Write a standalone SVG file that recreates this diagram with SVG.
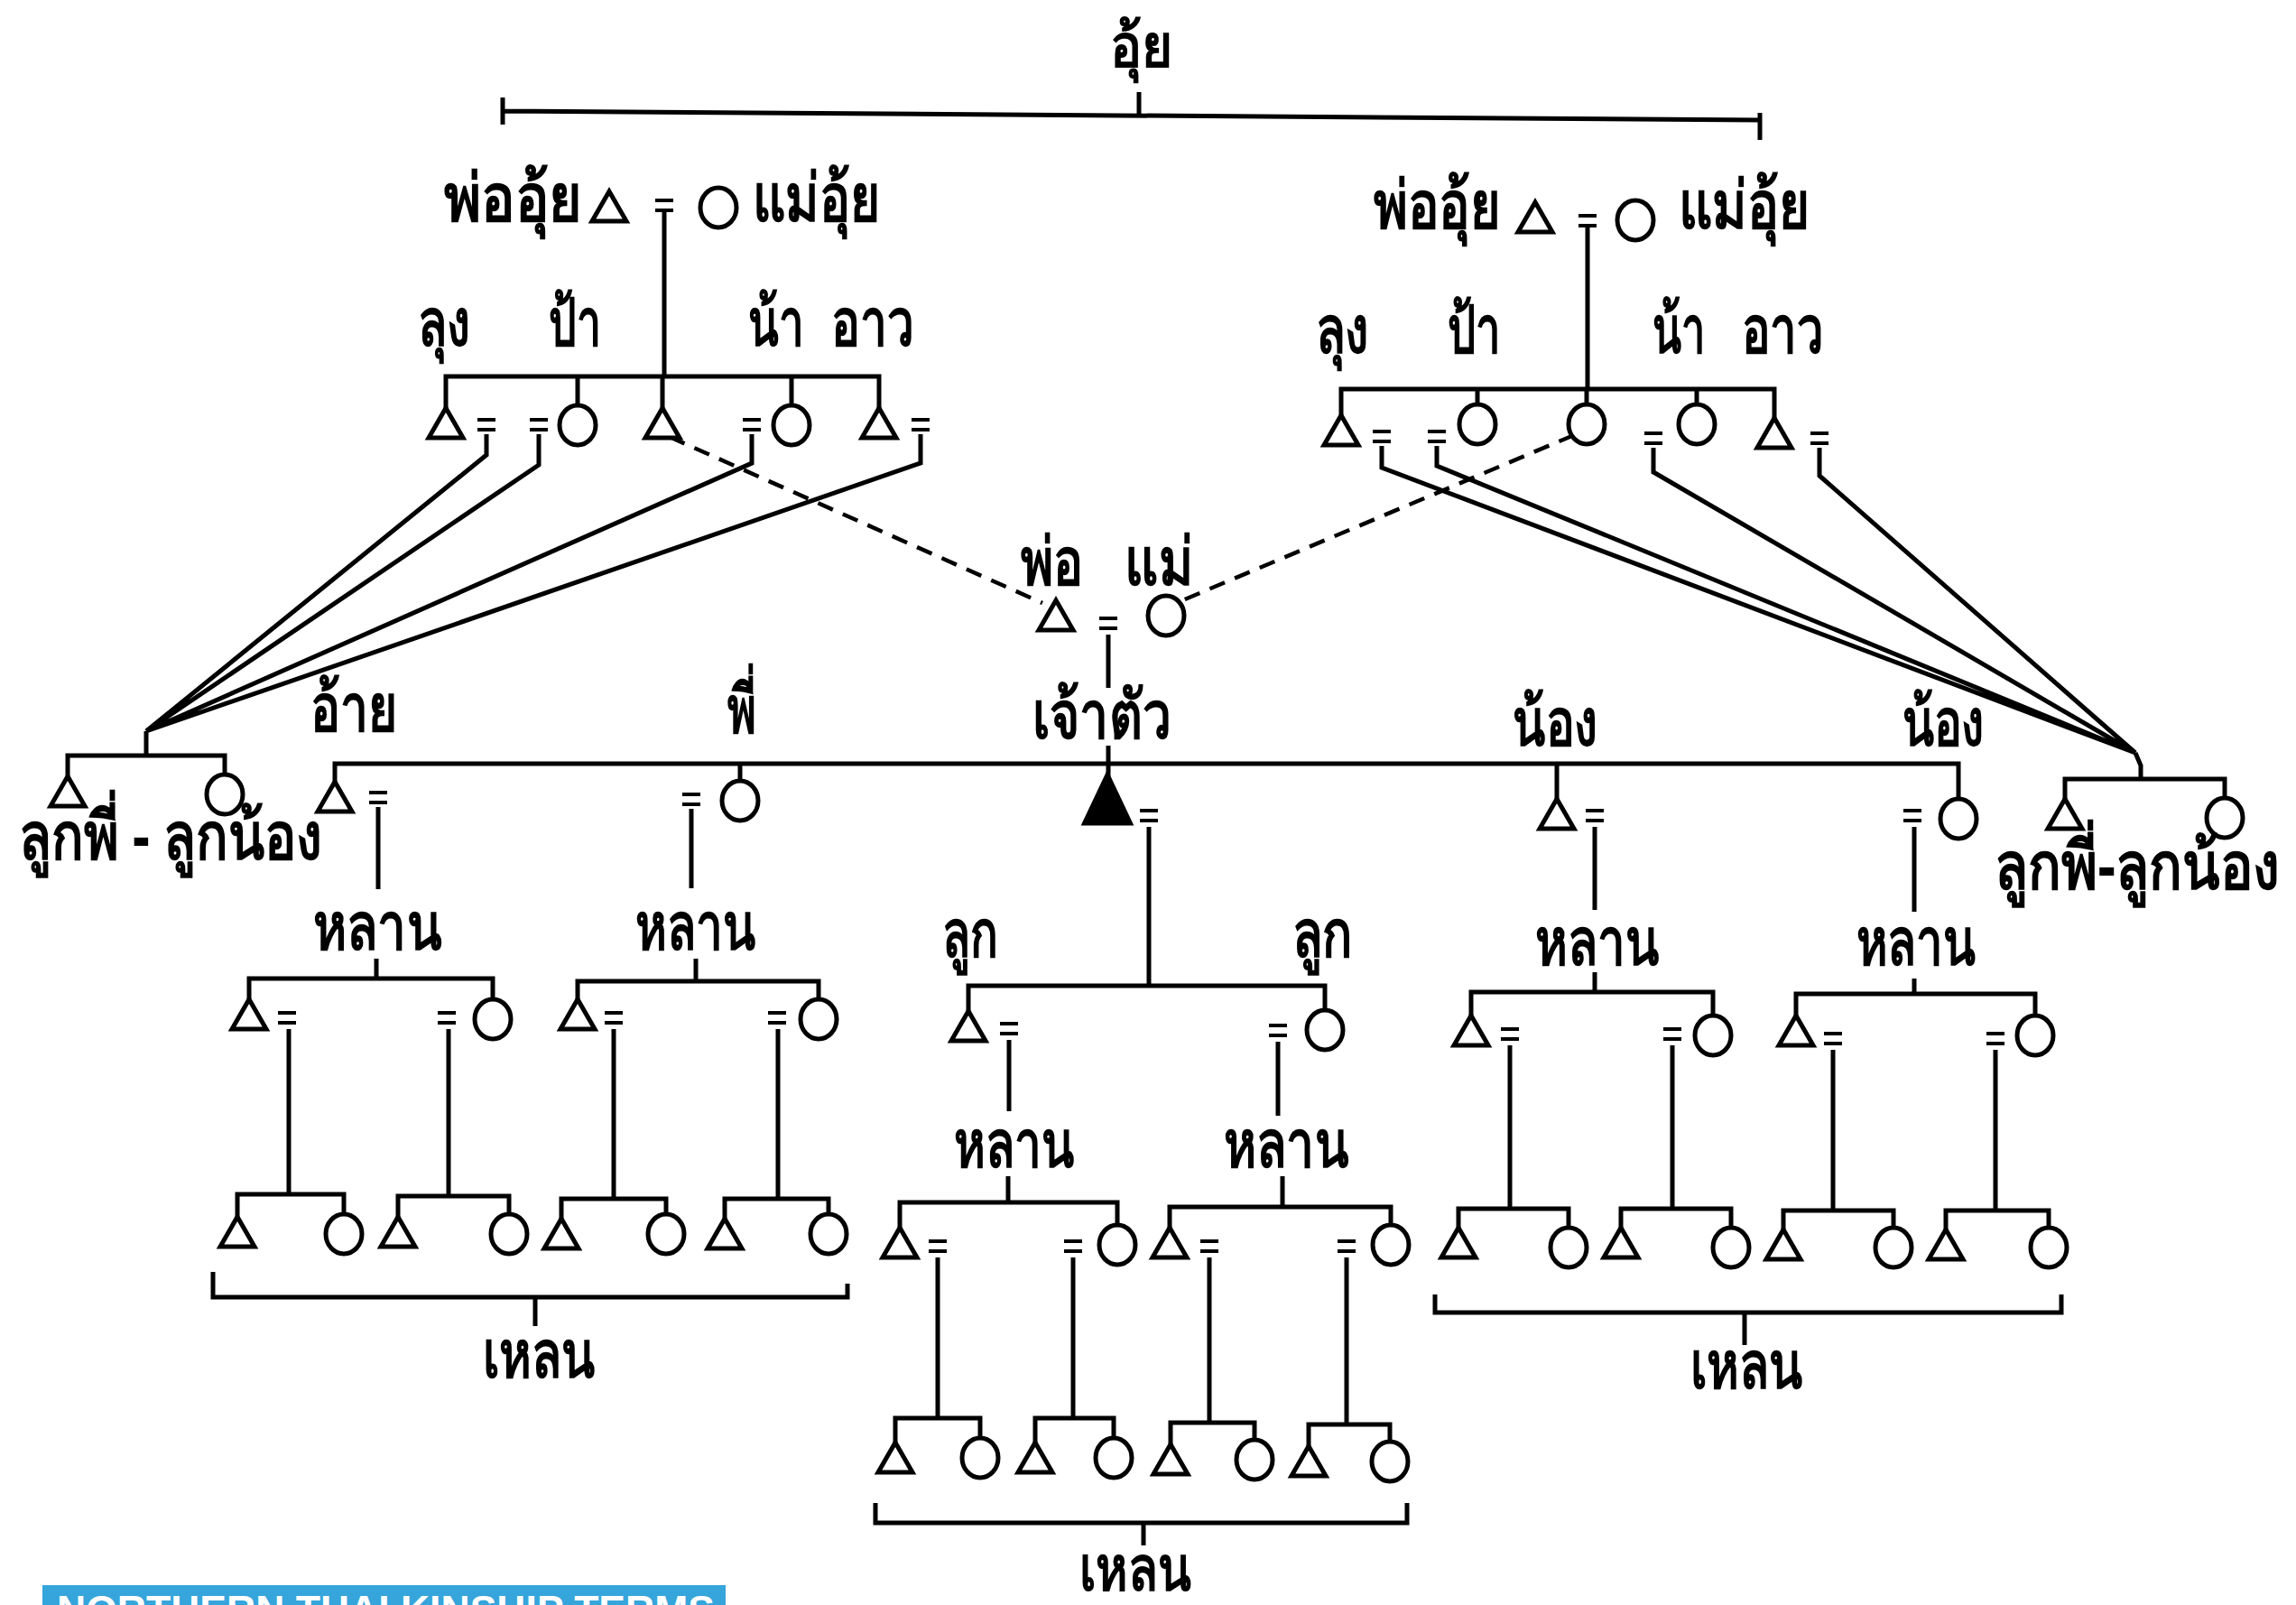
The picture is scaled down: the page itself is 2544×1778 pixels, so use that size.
<svg xmlns="http://www.w3.org/2000/svg" xmlns:xlink="http://www.w3.org/1999/xlink" width="2544" height="1778" viewBox="0 0 2544 1778">
<style>
.t{font-family:"Noto Sans","DejaVu Sans",sans-serif;font-size:74px;font-weight:bold;text-anchor:middle;fill:#000}
.c{fill:none;stroke:#000;stroke-width:5;stroke-linejoin:miter}
.d{fill:none;stroke:#000;stroke-width:4.5;stroke-dasharray:18 12}
.sym{fill:#fff;stroke:#000;stroke-width:5}
.eqs{fill:none;stroke:#000;stroke-width:4}
.banner{fill:#35a5db}
.bt{font-family:"Liberation Sans",Arial,sans-serif;font-size:44px;font-weight:bold;fill:#fff}
</style>
<defs>
<path id="tri" d="M0,0 L19,33 L-19,33 Z" class="sym"/>
<ellipse id="cir" cx="0" cy="22" rx="20" ry="22" class="sym"/>
<path id="eq" d="M-10,-5 h20 M-10,6 h20" class="eqs"/>
</defs>
<rect width="2544" height="1778" fill="#fff"/>

<g id="connectors">
<path class="c" d="M557,108 V138 M557,123 L1950,133 M1950,125 V155 M1262,102 V128"/>
<path class="c" d="M736,234 V417 M494,452 V417 H974 V452 M640,417 V449 M734,417 V452 M877,417 V449"/>
<path class="c" d="M1759,251 V431 M1486,460 V431 H1966 V463 M1637,431 V448 M1758,431 V448 M1880,431 V448"/>
<path class="c" d="M539,481 V504 L162,810 M597,481 V515 L162,810 M833,481 V513 L162,810 M1020,481 V513 L162,810 M162,810 V837 M75,860 V837 H249 V858"/>
<path class="c" d="M1531,494 V518 L2366,834 M1592,494 V516 L2366,834 M1832,496 V523 L2366,834 M2016,496 V527 L2366,834 M2366,834 L2372,848 V863 M2288,885 V863 H2465 V884"/>
<path class="d" d="M742,484 L1155,668 M1744,482 L1308,666"/>
<path class="c" d="M1228,703 V762 M1228,826 V860 M371,866 V846 H2170 V885 M820,846 V865 M1725,846 V885"/>
<path class="c" d="M419,894 V985 M766,896 V984 M1273,916 V1092 M1767,916 V1008 M2121,916 V1010"/>
<path class="c" d="M417,1062 V1084 M276,1107 V1084 H546 V1107 M771,1062 V1087 M640,1107 V1087 H907 V1107"/>
<path class="c" d="M320,1140 V1323 M263,1348 V1323 H381 V1345 M497,1140 V1325 M441,1348 V1325 H564 V1345 M680,1140 V1328 M622,1350 V1328 H738 V1345 M862,1140 V1328 M803,1350 V1328 H918 V1345"/>
<path class="c" d="M236,1409 V1437 H939 V1422 M593,1437 V1469"/>
<path class="c" d="M1073,1120 V1092 H1468 V1119 M1118,1152 V1231 M1117,1303 V1332 M997,1360 V1332 H1238 V1357 M1416,1154 V1236 M1421,1303 V1337 M1296,1360 V1337 H1541 V1357"/>
<path class="c" d="M1039,1393 V1571 M992,1598 V1571 H1086 V1593 M1189,1393 V1571 M1147,1598 V1571 H1234 V1593 M1340,1393 V1576 M1297,1600 V1576 H1390 V1595 M1492,1393 V1578 M1450,1602 V1578 H1540 V1597"/>
<path class="c" d="M970,1665 V1687 H1559 V1665 M1267,1687 V1712"/>
<path class="c" d="M1767,1077 V1099 M1630,1125 V1099 H1898 V1125 M2121,1084 V1101 M1990,1125 V1101 H2255 V1125"/>
<path class="c" d="M1673,1158 V1339 M1616,1360 V1339 H1738 V1360 M1853,1158 V1339 M1796,1360 V1339 H1918 V1360 M2031,1163 V1341 M1976,1362 V1341 H2098 V1360 M2211,1163 V1341 M2156,1362 V1341 H2270 V1360"/>
<path class="c" d="M1590,1434 V1454 H2284 V1434 M1933,1454 V1490"/>
</g>

<g id="ui"><text class="t" x="1265" y="74" textLength="70" lengthAdjust="spacingAndGlyphs" style="font-size:66px">อุ้ย</text></g>

<g id="left-gf"><use href="#tri" x="675" y="212"/><text class="t" x="568" y="245" textLength="152" lengthAdjust="spacingAndGlyphs">พ่ออุ้ย</text></g>
<g id="left-gp-eq"><use href="#eq" x="736" y="227"/></g>
<g id="left-gm"><use href="#cir" x="796" y="208"/><text class="t" x="904" y="245" textLength="141" lengthAdjust="spacingAndGlyphs">แม่อุ้ย</text></g>

<g id="right-gf"><use href="#tri" x="1701" y="224"/><text class="t" x="1592" y="253" textLength="140" lengthAdjust="spacingAndGlyphs">พ่ออุ้ย</text></g>
<g id="right-gp-eq"><use href="#eq" x="1759" y="244"/></g>
<g id="right-gm"><use href="#cir" x="1812" y="222"/><text class="t" x="1932" y="253" textLength="145" lengthAdjust="spacingAndGlyphs">แม่อุ้ย</text></g>

<g id="l-lung"><use href="#tri" x="494" y="452"/><use href="#eq" x="539" y="470"/><text class="t" x="492" y="383" textLength="58" lengthAdjust="spacingAndGlyphs">ลุง</text></g>
<g id="l-pa"><use href="#eq" x="597" y="470"/><use href="#cir" x="640" y="449"/><text class="t" x="637" y="383" textLength="58" lengthAdjust="spacingAndGlyphs">ป้า</text></g>
<g id="l-father"><use href="#tri" x="734" y="452"/></g>
<g id="l-na"><use href="#eq" x="833" y="470"/><use href="#cir" x="877" y="449"/><text class="t" x="860" y="383" textLength="62" lengthAdjust="spacingAndGlyphs">น้า</text></g>
<g id="l-ao"><use href="#tri" x="974" y="452"/><use href="#eq" x="1020" y="470"/><text class="t" x="967" y="383" textLength="92" lengthAdjust="spacingAndGlyphs">อาว</text></g>

<g id="r-lung"><use href="#tri" x="1486" y="460"/><use href="#eq" x="1531" y="483"/><text class="t" x="1487" y="391" textLength="59" lengthAdjust="spacingAndGlyphs">ลุง</text></g>
<g id="r-pa"><use href="#eq" x="1592" y="483"/><use href="#cir" x="1637" y="448"/><text class="t" x="1633" y="391" textLength="59" lengthAdjust="spacingAndGlyphs">ป้า</text></g>
<g id="r-mother"><use href="#cir" x="1758" y="448"/></g>
<g id="r-na"><use href="#eq" x="1832" y="485"/><use href="#cir" x="1880" y="448"/><text class="t" x="1860" y="391" textLength="59" lengthAdjust="spacingAndGlyphs">น้า</text></g>
<g id="r-ao"><use href="#tri" x="1966" y="463"/><use href="#eq" x="2016" y="485"/><text class="t" x="1975" y="391" textLength="91" lengthAdjust="spacingAndGlyphs">อาว</text></g>

<g id="father"><use href="#tri" x="1170" y="665"/><text class="t" x="1165" y="648" textLength="69" lengthAdjust="spacingAndGlyphs">พ่อ</text></g>
<g id="parents-eq"><use href="#eq" x="1228" y="690"/></g>
<g id="mother"><use href="#cir" x="1292" y="660"/><text class="t" x="1284" y="648" textLength="76" lengthAdjust="spacingAndGlyphs">แม่</text></g>

<g id="l-cousins"><use href="#tri" x="75" y="860"/><use href="#cir" x="249" y="858"/><text class="t" x="189" y="952" textLength="336" lengthAdjust="spacingAndGlyphs">ลูกพี่ - ลูกน้อง</text></g>
<g id="r-cousins"><use href="#tri" x="2288" y="885"/><use href="#cir" x="2465" y="884"/><text class="t" x="2526" y="985" textLength="316" lengthAdjust="spacingAndGlyphs" style="text-anchor:end">ลูกพี่-ลูกน้อง</text></g>

<g id="ai"><use href="#tri" x="371" y="866"/><use href="#eq" x="419" y="883"/><text class="t" x="392" y="810" textLength="96" lengthAdjust="spacingAndGlyphs">อ้าย</text></g>
<g id="phi"><use href="#eq" x="766" y="885"/><use href="#cir" x="820" y="865"/><text class="t" x="822" y="812" textLength="32" lengthAdjust="spacingAndGlyphs">พี่</text></g>
<g id="ego"><path d="M1227,856 L1254,913 L1200,913 Z" fill="#000" stroke="#000" stroke-width="3"/><use href="#eq" x="1273" y="903"/><text class="t" x="1221" y="818" textLength="154" lengthAdjust="spacingAndGlyphs">เจ้าตัว</text></g>
<g id="nong-m"><use href="#tri" x="1725" y="885"/><use href="#eq" x="1767" y="903"/><text class="t" x="1723" y="826" textLength="94" lengthAdjust="spacingAndGlyphs">น้อง</text></g>
<g id="nong-f"><use href="#eq" x="2119" y="903"/><use href="#cir" x="2170" y="885"/><text class="t" x="2153" y="826" textLength="91" lengthAdjust="spacingAndGlyphs">น้อง</text></g>

<g id="ai-children"><text class="t" x="418" y="1052" textLength="143" lengthAdjust="spacingAndGlyphs">หลาน</text><use href="#tri" x="276" y="1107"/><use href="#eq" x="318" y="1127"/><use href="#eq" x="495" y="1127"/><use href="#cir" x="546" y="1107"/></g>
<g id="phi-children"><text class="t" x="771" y="1052" textLength="134" lengthAdjust="spacingAndGlyphs">หลาน</text><use href="#tri" x="640" y="1107"/><use href="#eq" x="680" y="1127"/><use href="#eq" x="861" y="1127"/><use href="#cir" x="907" y="1107"/></g>
<g id="lane-1"><use href="#tri" x="263" y="1348"/><use href="#cir" x="381" y="1345"/></g>
<g id="lane-2"><use href="#tri" x="441" y="1348"/><use href="#cir" x="564" y="1345"/></g>
<g id="lane-3"><use href="#tri" x="622" y="1350"/><use href="#cir" x="738" y="1345"/></g>
<g id="lane-4"><use href="#tri" x="803" y="1350"/><use href="#cir" x="918" y="1345"/></g>
<g id="lane-left-label"><text class="t" x="597" y="1526" textLength="125" lengthAdjust="spacingAndGlyphs">เหลน</text></g>

<g id="son"><text class="t" x="1075" y="1060" textLength="62" lengthAdjust="spacingAndGlyphs">ลูก</text><use href="#tri" x="1073" y="1120"/><use href="#eq" x="1118" y="1139"/></g>
<g id="daughter"><text class="t" x="1465" y="1060" textLength="67" lengthAdjust="spacingAndGlyphs">ลูก</text><use href="#eq" x="1416" y="1141"/><use href="#cir" x="1468" y="1119"/></g>
<g id="son-children"><text class="t" x="1124" y="1293" textLength="134" lengthAdjust="spacingAndGlyphs">หลาน</text><use href="#tri" x="997" y="1360"/><use href="#eq" x="1039" y="1380"/><use href="#eq" x="1189" y="1380"/><use href="#cir" x="1238" y="1357"/></g>
<g id="daughter-children"><text class="t" x="1425" y="1293" textLength="139" lengthAdjust="spacingAndGlyphs">หลาน</text><use href="#tri" x="1296" y="1360"/><use href="#eq" x="1340" y="1380"/><use href="#eq" x="1492" y="1380"/><use href="#cir" x="1541" y="1357"/></g>
<g id="lane-5"><use href="#tri" x="992" y="1598"/><use href="#cir" x="1086" y="1593"/></g>
<g id="lane-6"><use href="#tri" x="1147" y="1598"/><use href="#cir" x="1234" y="1593"/></g>
<g id="lane-7"><use href="#tri" x="1297" y="1600"/><use href="#cir" x="1390" y="1595"/></g>
<g id="lane-8"><use href="#tri" x="1450" y="1602"/><use href="#cir" x="1540" y="1597"/></g>
<g id="lane-mid-label"><text class="t" x="1258" y="1762" textLength="124" lengthAdjust="spacingAndGlyphs" style="font-size:70px">เหลน</text></g>

<g id="nong-m-children"><text class="t" x="1770" y="1069" textLength="138" lengthAdjust="spacingAndGlyphs">หลาน</text><use href="#tri" x="1630" y="1125"/><use href="#eq" x="1673" y="1145"/><use href="#eq" x="1853" y="1145"/><use href="#cir" x="1898" y="1125"/></g>
<g id="nong-f-children"><text class="t" x="2123" y="1069" textLength="133" lengthAdjust="spacingAndGlyphs">หลาน</text><use href="#tri" x="1990" y="1125"/><use href="#eq" x="2031" y="1150"/><use href="#eq" x="2211" y="1150"/><use href="#cir" x="2255" y="1125"/></g>
<g id="lane-9"><use href="#tri" x="1616" y="1360"/><use href="#cir" x="1738" y="1360"/></g>
<g id="lane-10"><use href="#tri" x="1796" y="1360"/><use href="#cir" x="1918" y="1360"/></g>
<g id="lane-11"><use href="#tri" x="1976" y="1362"/><use href="#cir" x="2098" y="1360"/></g>
<g id="lane-12"><use href="#tri" x="2156" y="1362"/><use href="#cir" x="2270" y="1360"/></g>
<g id="lane-right-label"><text class="t" x="1935" y="1538" textLength="125" lengthAdjust="spacingAndGlyphs">เหลน</text></g>

<g id="banner"><rect class="banner" x="47" y="1756" width="757" height="22"/><text class="bt" x="63" y="1799" textLength="729" lengthAdjust="spacingAndGlyphs">NORTHERN THAI KINSHIP TERMS</text></g>
</svg>
